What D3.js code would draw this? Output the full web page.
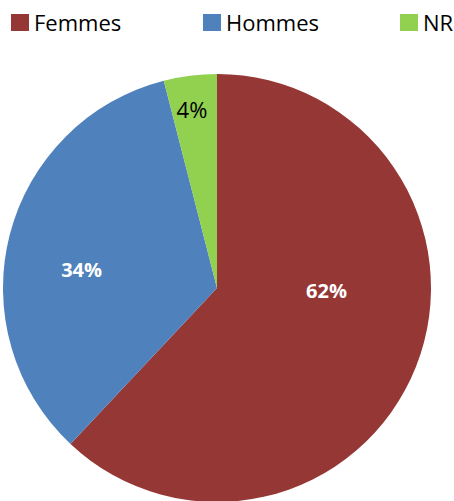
<!DOCTYPE html>
<html>
<head>
<meta charset="utf-8">
<script src="https://cdn.jsdelivr.net/npm/d3@7"></script>
<style>
  html, body { margin: 0; padding: 0; background: #fff; }
  svg { display: block; }
</style>
</head>
<body>
<div id="chart"></div>
<script>
var categories = ["Femmes", "Hommes", "NR"];
var values = [62, 34, 4];
var colors = ["#953735", "#4F81BD", "#92D050"];
var labelColors = ["#fff", "#fff", "#000"];
var labelWeights = ["bold", "bold", "normal"];
var labelSizes = [20, 20, 22];
// label placement: angle (deg, clockwise from top) and distance as part of radius
var labelAngles = [91.6, 277.4, 352];
var labelRadii = [0.512, 0.638, 0.84];

var w = 454, h = 501;
var cx = 217, cy = 288, r = 214;

var svg = d3.select("#chart").append("svg")
  .attr("width", w)
  .attr("height", h);

var pie = d3.pie().sort(null).value(function(d){ return d; });
var arc = d3.arc().innerRadius(0).outerRadius(r);
var arcs = pie(values);

var g = svg.append("g").attr("transform", "translate(" + cx + "," + cy + ")");

// slices
g.selectAll("path")
  .data(arcs)
  .enter()
  .append("path")
  .attr("d", arc)
  .attr("fill", function(d, i){ return colors[i]; });

// labels
g.selectAll("text")
  .data(arcs)
  .enter()
  .append("text")
  .attr("x", function(d, i){ return Math.sin(labelAngles[i] * Math.PI / 180) * r * labelRadii[i]; })
  .attr("y", function(d, i){ return -Math.cos(labelAngles[i] * Math.PI / 180) * r * labelRadii[i]; })
  .attr("dy", "0.35em")
  .attr("text-anchor", "middle")
  .attr("font-family", "Open Sans, sans-serif")
  .attr("font-size", function(d, i){ return labelSizes[i] + "px"; })
  .attr("font-weight", function(d, i){ return labelWeights[i]; })
  .attr("fill", function(d, i){ return labelColors[i]; })
  .text(function(d){ return d.data + "%"; });

// legend
var legendX = [11, 203, 400];
var lg = svg.selectAll("g.legend")
  .data(categories)
  .enter()
  .append("g")
  .attr("class", "legend")
  .attr("transform", function(d, i){ return "translate(" + legendX[i] + ",14)"; });

lg.append("rect")
  .attr("width", 18)
  .attr("height", 17)
  .attr("fill", function(d, i){ return colors[i]; });

lg.append("text")
  .attr("x", 23)
  .attr("y", 17)
  .attr("font-family", "Open Sans, sans-serif")
  .attr("font-size", "22px")
  .attr("fill", "#000")
  .text(function(d){ return d; });
</script>
</body>
</html>
